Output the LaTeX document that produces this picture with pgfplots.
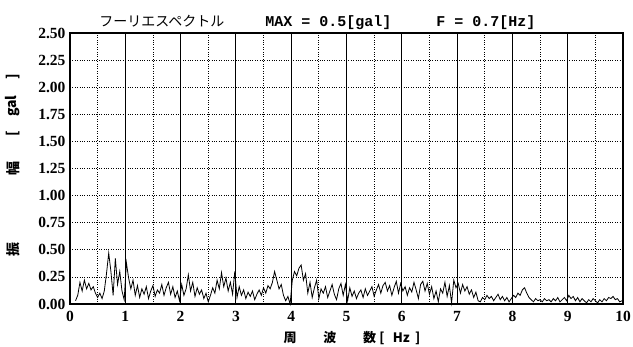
\documentclass[border=0pt]{standalone}
\usepackage{fontspec}
\setmainfont{Liberation Serif}
\newfontfamily\jp{Noto Sans CJK JP}
\newfontfamily\mono{Liberation Mono}
\usepackage{pgfplots}
\pgfplotsset{compat=1.18}
\usepackage{pgfplotstable}
\usetikzlibrary{calc}

% Fourier amplitude spectrum [gal] against frequency [Hz]
\pgfplotstableread[row sep=\\]{
f a \\
0.10 0.03 \\ 0.14 0.08 \\ 0.18 0.20 \\ 0.22 0.12 \\ 0.26 0.22 \\ 0.30 0.14 \\ 0.34 0.19 \\ 0.38 0.13 \\ 0.42 0.16 \\ 0.46 0.10 \\
0.50 0.06 \\ 0.54 0.10 \\ 0.58 0.05 \\ 0.62 0.12 \\ 0.66 0.28 \\ 0.70 0.47 \\ 0.74 0.30 \\ 0.78 0.08 \\ 0.82 0.42 \\ 0.86 0.18 \\
0.90 0.30 \\ 0.94 0.12 \\ 0.98 0.04 \\ 1.02 0.38 \\ 1.06 0.24 \\ 1.10 0.14 \\ 1.14 0.22 \\ 1.18 0.08 \\ 1.22 0.17 \\ 1.26 0.06 \\
1.30 0.14 \\ 1.34 0.09 \\ 1.38 0.16 \\ 1.42 0.05 \\ 1.46 0.12 \\ 1.50 0.17 \\ 1.54 0.07 \\ 1.58 0.13 \\ 1.62 0.10 \\ 1.66 0.18 \\
1.70 0.08 \\ 1.74 0.15 \\ 1.78 0.20 \\ 1.82 0.09 \\ 1.86 0.16 \\ 1.90 0.06 \\ 1.94 0.12 \\ 1.98 0.03 \\ 2.02 0.18 \\ 2.06 0.08 \\
2.10 0.14 \\ 2.14 0.27 \\ 2.18 0.12 \\ 2.22 0.20 \\ 2.26 0.07 \\ 2.30 0.15 \\ 2.34 0.09 \\ 2.38 0.13 \\ 2.42 0.05 \\ 2.46 0.10 \\
2.50 0.02 \\ 2.54 0.08 \\ 2.58 0.15 \\ 2.62 0.10 \\ 2.66 0.22 \\ 2.70 0.14 \\ 2.74 0.29 \\ 2.78 0.16 \\ 2.82 0.24 \\ 2.86 0.12 \\
2.90 0.20 \\ 2.94 0.09 \\ 2.98 0.30 \\ 3.02 0.06 \\ 3.06 0.16 \\ 3.10 0.08 \\ 3.14 0.13 \\ 3.18 0.05 \\ 3.22 0.11 \\ 3.26 0.07 \\
3.30 0.12 \\ 3.34 0.04 \\ 3.38 0.09 \\ 3.42 0.13 \\ 3.46 0.08 \\ 3.50 0.15 \\ 3.54 0.10 \\ 3.58 0.17 \\ 3.62 0.14 \\ 3.66 0.20 \\
3.70 0.30 \\ 3.74 0.22 \\ 3.78 0.14 \\ 3.82 0.18 \\ 3.86 0.08 \\ 3.90 0.03 \\ 3.94 0.07 \\ 3.98 0.00 \\ 4.02 0.22 \\ 4.06 0.30 \\
4.10 0.26 \\ 4.14 0.33 \\ 4.18 0.36 \\ 4.22 0.22 \\ 4.26 0.28 \\ 4.30 0.10 \\ 4.34 0.20 \\ 4.38 0.06 \\ 4.42 0.15 \\ 4.46 0.22 \\
4.50 0.05 \\ 4.54 0.14 \\ 4.58 0.10 \\ 4.62 0.16 \\ 4.66 0.06 \\ 4.70 0.12 \\ 4.74 0.18 \\ 4.78 0.09 \\ 4.82 0.04 \\ 4.86 0.14 \\
4.90 0.19 \\ 4.94 0.08 \\ 4.98 0.18 \\ 5.02 0.03 \\ 5.06 0.15 \\ 5.10 0.07 \\ 5.14 0.12 \\ 5.18 0.05 \\ 5.22 0.10 \\ 5.26 0.13 \\
5.30 0.06 \\ 5.34 0.14 \\ 5.38 0.08 \\ 5.42 0.12 \\ 5.46 0.16 \\ 5.50 0.07 \\ 5.54 0.13 \\ 5.58 0.18 \\ 5.62 0.10 \\ 5.66 0.17 \\
5.70 0.20 \\ 5.74 0.12 \\ 5.78 0.17 \\ 5.82 0.08 \\ 5.86 0.15 \\ 5.90 0.21 \\ 5.94 0.10 \\ 5.98 0.19 \\ 6.02 0.12 \\ 6.06 0.16 \\
6.10 0.08 \\ 6.14 0.15 \\ 6.18 0.11 \\ 6.22 0.20 \\ 6.26 0.13 \\ 6.30 0.05 \\ 6.34 0.18 \\ 6.38 0.21 \\ 6.42 0.12 \\ 6.46 0.19 \\
6.50 0.09 \\ 6.54 0.16 \\ 6.58 0.05 \\ 6.62 0.12 \\ 6.66 0.02 \\ 6.70 0.14 \\ 6.74 0.10 \\ 6.78 0.20 \\ 6.82 0.07 \\ 6.86 0.17 \\
6.90 0.01 \\ 6.94 0.22 \\ 6.98 0.15 \\ 7.02 0.19 \\ 7.06 0.10 \\ 7.10 0.18 \\ 7.14 0.12 \\ 7.18 0.16 \\ 7.22 0.09 \\ 7.26 0.13 \\
7.30 0.06 \\ 7.34 0.11 \\ 7.38 0.03 \\ 7.42 0.02 \\ 7.46 0.06 \\ 7.50 0.04 \\ 7.54 0.08 \\ 7.58 0.05 \\ 7.62 0.07 \\ 7.66 0.03 \\
7.70 0.06 \\ 7.74 0.09 \\ 7.78 0.04 \\ 7.82 0.07 \\ 7.86 0.03 \\ 7.90 0.06 \\ 7.94 0.02 \\ 7.98 0.05 \\ 8.02 0.08 \\ 8.06 0.06 \\
8.10 0.10 \\ 8.14 0.08 \\ 8.18 0.13 \\ 8.22 0.15 \\ 8.26 0.10 \\ 8.30 0.06 \\ 8.34 0.04 \\ 8.38 0.02 \\ 8.42 0.05 \\ 8.46 0.03 \\
8.50 0.04 \\ 8.54 0.02 \\ 8.58 0.05 \\ 8.62 0.03 \\ 8.66 0.04 \\ 8.70 0.02 \\ 8.74 0.05 \\ 8.78 0.03 \\ 8.82 0.06 \\ 8.86 0.02 \\
8.90 0.04 \\ 8.94 0.06 \\ 8.98 0.03 \\ 9.02 0.08 \\ 9.06 0.05 \\ 9.10 0.07 \\ 9.14 0.03 \\ 9.18 0.06 \\ 9.22 0.02 \\ 9.26 0.05 \\
9.30 0.03 \\ 9.34 0.01 \\ 9.38 0.04 \\ 9.42 0.02 \\ 9.46 0.05 \\ 9.50 0.03 \\ 9.54 0.01 \\ 9.58 0.04 \\ 9.62 0.02 \\ 9.66 0.05 \\
9.70 0.03 \\ 9.74 0.06 \\ 9.78 0.05 \\ 9.82 0.07 \\ 9.86 0.04 \\ 9.90 0.05 \\ 9.94 0.02 \\ 9.98 0.03 \\
}\spectrum

\begin{document}
\begin{tikzpicture}
\begin{axis}[
  scale only axis,
  width=553pt, height=271pt,
  xmin=0, xmax=10, ymin=0, ymax=2.5,
  axis line style={black, line width=1.3pt},
  xtick={0,1,...,10},
  minor xtick={0.5,1.5,...,9.5},
  ytick={0,0.25,...,2.5},
  yticklabels={0.00,0.25,0.50,0.75,1.00,1.25,1.50,1.75,2.00,2.25,2.50},
  major tick length=0pt, minor tick length=0pt,
  xminorgrids=true, ymajorgrids=true,
  major grid style={black, dotted, line width=0.8pt},
  minor grid style={black, dotted, line width=0.8pt},
  extra x ticks={1,2,...,9},
  extra x tick labels={},
  extra x tick style={xmajorgrids=true, major grid style={black, solid, line width=1.1pt}},
  tick label style={font=\fontsize{15.5}{15.5}\selectfont\bfseries},
  /pgf/number format/assume math mode=true,
  xticklabel style={yshift=-4pt},
  yticklabel style={xshift=-1pt},
  clip=false,
]
\addplot[black, line width=0.8pt] table[x=f, y=a] {\spectrum};

% title
\node[anchor=base, font=\jp\fontsize{14}{14}\selectfont] at (rel axis cs:0.166,1) [yshift=7pt] {フーリエスペクトル};
\node[anchor=base west, font=\mono\bfseries\fontsize{15}{15}\selectfont] at (rel axis cs:0.347,1) [yshift=7pt] {MAX = 0.5[gal]~~~~~F = 0.7[Hz]};

% vertical axis title, spread out
\begin{scope}[every node/.style={rotate=90, font=\jp\bfseries\fontsize{14}{14}\selectfont}]
\node at ($(rel axis cs:0,0.20)+(-57pt,0)$) {振};
\node at ($(rel axis cs:0,0.50)+(-57pt,0)$) {幅};
\node at ($(rel axis cs:0,0.63)+(-57pt,0)$) {[};
\node at ($(rel axis cs:0,0.73)+(-57pt,0)$) {gal};
\node at ($(rel axis cs:0,0.84)+(-57pt,0)$) {]};
\end{scope}

% horizontal axis title, spread out
\begin{scope}[every node/.style={font=\jp\bfseries\fontsize{13}{13}\selectfont}]
\node at (rel axis cs:0.398,0) [yshift=-34pt] {周};
\node at (rel axis cs:0.470,0) [yshift=-34pt] {波};
\node at (rel axis cs:0.542,0) [yshift=-34pt] {数};
\node at (rel axis cs:0.564,0) [yshift=-34pt] {[};
\node at (rel axis cs:0.599,0) [yshift=-34pt] {Hz};
\node at (rel axis cs:0.629,0) [yshift=-34pt] {]};
\end{scope}
\end{axis}
\pgfresetboundingbox
\path ($(current axis.south west)+(-70pt,-42pt)$) rectangle ($(current axis.north east)+(10pt,33pt)$);
\end{tikzpicture}
\end{document}
